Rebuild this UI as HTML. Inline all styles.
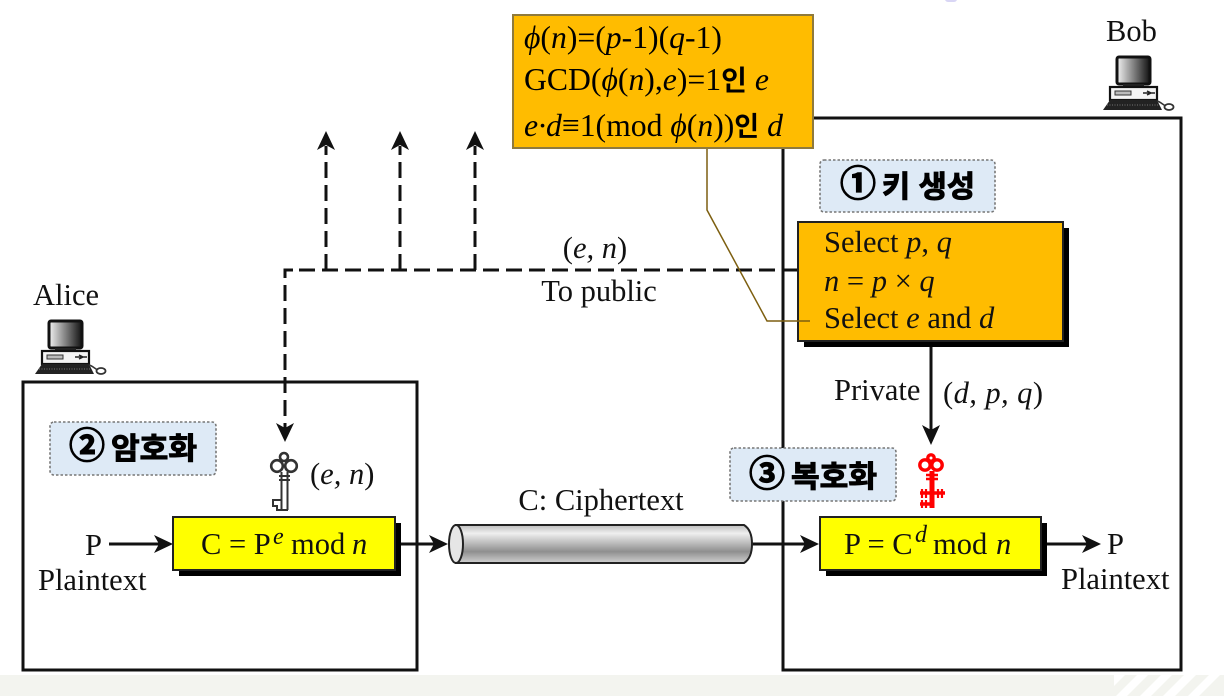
<!DOCTYPE html>
<html lang="ko"><head><meta charset="utf-8"><title>RSA</title>
<style>
html,body{margin:0;padding:0;background:#fff}
svg{display:block}
text{font-family:"Liberation Serif","Noto Serif CJK SC",serif;font-size:30.5px;fill:#111}
.i{font-style:italic}
.k{font-family:"Liberation Sans","Noto Sans CJK KR",sans-serif;font-weight:700;fill:#000}
.h{font-size:30px;stroke:#000;stroke-width:1px}
.c{font-size:36px;stroke:#000;stroke-width:1.2px}
.n{font-size:31.7px;fill:#000}
.s{font-size:24px;font-style:italic}
</style></head><body>
<svg width="1224" height="696" viewBox="0 0 1224 696" xmlns="http://www.w3.org/2000/svg">
<defs>
<linearGradient id="cy" x1="0" y1="0" x2="0" y2="1">
<stop offset="0" stop-color="#bdbdbd"/><stop offset=".22" stop-color="#efefef"/><stop offset=".7" stop-color="#8f8f8f"/><stop offset="1" stop-color="#d0d0d0"/>
</linearGradient>
<linearGradient id="sc" x1="0" y1="0" x2="1" y2="0">
<stop offset="0" stop-color="#f2f2f2"/><stop offset="1" stop-color="#111"/>
</linearGradient>
<g id="pc">
<rect x="14" y="1" width="33" height="27" rx="2" fill="url(#sc)" stroke="#111" stroke-width="3"/>
<rect x="20" y="28" width="21" height="3.5" fill="#222"/>
<rect x="7" y="31" width="47" height="13" fill="#f4f4f4" stroke="#111" stroke-width="2.2"/>
<rect x="12" y="35" width="16" height="4" fill="#bbb" stroke="#333"/>
<path d="M40 37h12M44 35l4 2-4 2" stroke="#222" stroke-width="1.5" fill="none"/>
<path d="M7 44h47l5 10H0z" fill="#222"/>
<path d="M4 49h51" stroke="#777" stroke-dasharray="1 1.5"/>
<path d="M54 45c4 1 6 4 9 5" stroke="#333" fill="none" stroke-width="1.5"/>
<ellipse cx="66" cy="51" rx="4.5" ry="3" fill="#fff" stroke="#333" stroke-width="1.8"/>
</g>
</defs>

<rect x="945" y="-4" width="12" height="6" rx="3" fill="#d9d6f5"/>

<!-- main boxes -->
<rect x="783" y="118" width="398" height="552" fill="#fff" stroke="#111" stroke-width="3"/>
<rect x="23" y="382" width="394" height="288" fill="#fff" stroke="#111" stroke-width="3"/>

<!-- footer -->
<rect x="0" y="675" width="1224" height="21" fill="#f3f4ef"/>
<g fill="#fff">
<path d="M1114 675h11l-11 11zM1137 675h11l-21 21h-11zM1161 675h11l-21 21h-11zM1184 675h12l-21 21h-12zM1209 675h11l-21 21h-11z"/>
</g>

<use href="#pc" x="35" y="320"/>
<use href="#pc" x="1103" y="56"/>
<text x="33" y="305">Alice</text>
<text x="1106" y="41">Bob</text>

<!-- dashed -->
<g stroke="#111" stroke-width="3" fill="none" stroke-dasharray="16 7">
<path d="M299 270H798"/>
<path d="M285 285V432"/>
<path d="M326 270V146"/><path d="M400 270V146"/><path d="M475 270V146"/>
</g>
<path d="M285 278V270H293" stroke="#111" stroke-width="3" fill="none"/>
<g fill="#111">
<path d="M326 131l9 19-9-5-9 5z"/><path d="M400 131l9 19-9-5-9 5z"/><path d="M475 131l9 19-9-5-9 5z"/>
<path d="M285 442l-9-19 9 5 9-5z"/>
</g>

<!-- solid connectors -->
<g stroke="#111" stroke-width="3" fill="none">
<path d="M931 341V432"/>
<path d="M109 544H160"/>
<path d="M401 544H434"/>
<path d="M752 544H806"/>
<path d="M1047 544H1087"/>
</g>
<g fill="#111">
<path d="M931 445l-9-20 9 5 9-5z"/>
<path d="M173 544l-19-9 5 9-5 9z"/>
<path d="M448 544l-19-9 5 9-5 9z"/>
<path d="M819 544l-19-9 5 9-5 9z"/>
<path d="M1101 544l-19-9 5 9-5 9z"/>
</g>

<!-- orange select box -->
<rect x="804" y="228" width="265" height="119" fill="#000"/>
<rect x="798" y="222" width="265" height="119" fill="#ffbc00" stroke="#222" stroke-width="2"/>
<text x="824" y="252">Select <tspan class="i">p</tspan>, <tspan class="i">q</tspan></text>
<text x="824" y="291"><tspan class="i">n</tspan> = <tspan class="i">p</tspan> × <tspan class="i">q</tspan></text>
<text x="824" y="328">Select <tspan class="i">e</tspan> and <tspan class="i">d</tspan></text>

<!-- top formula -->
<path d="M707 148V210L767 321H810" fill="none" stroke="#7d5f10" stroke-width="1.5"/>
<rect x="513" y="15" width="300" height="133" fill="#ffbc00" stroke="#8f7a3c" stroke-width="2"/>
<text class="n" x="524" y="48"><tspan class="i">ϕ</tspan>(<tspan class="i">n</tspan>)=(<tspan class="i">p</tspan>-1)(<tspan class="i">q</tspan>-1)</text>
<text class="n" x="524" y="90">GCD(<tspan class="i">ϕ</tspan>(<tspan class="i">n</tspan>),<tspan class="i">e</tspan>)=1<tspan class="k" style="font-size:28px">인</tspan> <tspan class="i">e</tspan></text>
<text class="n" x="524" y="136"><tspan class="i">e·d</tspan>≡1(mod <tspan class="i">ϕ</tspan>(<tspan class="i">n</tspan>))<tspan class="k" style="font-size:27px">인</tspan> <tspan class="i">d</tspan></text>

<!-- labels -->
<g fill="#deeaf6" stroke="#777" stroke-width="1.6" stroke-dasharray="2.5 2">
<rect x="820" y="160" width="175" height="52" rx="4"/>
<rect x="50" y="422" width="166" height="53" rx="4"/>
<rect x="730" y="448" width="166" height="53" rx="4"/>
</g>
<text class="k c" x="840" y="196">①</text>
<text class="k h" x="882" y="197" textLength="93" lengthAdjust="spacingAndGlyphs">키 생성</text>
<text class="k c" x="69" y="458">②</text>
<text class="k h" x="111" y="459" textLength="86" lengthAdjust="spacingAndGlyphs">암호화</text>
<text class="k c" x="749" y="486">③</text>
<text class="k h" x="791" y="487" textLength="86" lengthAdjust="spacingAndGlyphs">복호화</text>

<text x="595" y="258" text-anchor="middle">(<tspan class="i">e, n</tspan>)</text>
<text x="599" y="301" text-anchor="middle">To public</text>
<text x="834" y="400">Private</text>
<text x="943" y="403" textLength="100">(<tspan class="i">d</tspan><tspan class="i">, p, q</tspan>)</text>
<text x="310" y="484">(<tspan class="i">e, n</tspan>)</text>
<text x="601" y="510" text-anchor="middle">C: Ciphertext</text>

<text x="85" y="555">P</text>
<text x="38" y="590">Plaintext</text>
<text x="1107" y="554">P</text>
<text x="1061" y="589">Plaintext</text>

<!-- cylinder -->
<path d="M456 525H744Q752 530 752 544T744 563H456z" fill="url(#cy)" stroke="#222" stroke-width="2"/>
<ellipse cx="456" cy="544" rx="7" ry="19" fill="#e6e6e6" stroke="#222" stroke-width="2"/>

<!-- yellow boxes -->
<rect x="179" y="523" width="222" height="53" fill="#000"/>
<rect x="173" y="517" width="222" height="53" fill="#ff0" stroke="#222" stroke-width="2"/>
<text x="201" y="554">C = P</text><text class="s" x="273" y="544">e</text><text x="291" y="554">mod</text><text class="i" x="352" y="554">n</text>
<rect x="826" y="523" width="221" height="53" fill="#000"/>
<rect x="820" y="517" width="221" height="53" fill="#ff0" stroke="#222" stroke-width="2"/>
<text x="844" y="554">P = C</text><text class="s" x="915" y="542">d</text><text x="933" y="554">mod</text><text class="i" x="996" y="554">n</text>

<!-- public key -->
<g fill="none" stroke="#333" stroke-width="2.6">
<circle cx="284" cy="457" r="4"/><circle cx="277" cy="466" r="5.8"/><circle cx="291" cy="466" r="5.8"/>
</g>
<g fill="none" stroke="#333" stroke-width="2">
<path d="M281.500 472V510M287.500 472V510"/>
<path d="M279 476H290M279 480H290"/>
<path d="M281 510H288"/>
<path d="M281 500H273V506H277V510H281"/>
</g>
<!-- private key -->
<g fill="none" stroke="#f00" stroke-width="3.4">
<circle cx="931" cy="458" r="3.2"/><circle cx="925" cy="465" r="5.2"/><circle cx="937" cy="465" r="5.2"/>
<path d="M932 471V508" stroke-width="5"/>
<path d="M926 475H938M926 479H938" stroke-width="2.5"/>
<path d="M920 493H945M920 504H932" stroke-width="3.5"/>
<path d="M922 489V498M926 489V498M938 489V498M942 489V498M922 500V508M926 500V508" stroke-width="2.2"/>
</g>
</svg>
</body></html>
